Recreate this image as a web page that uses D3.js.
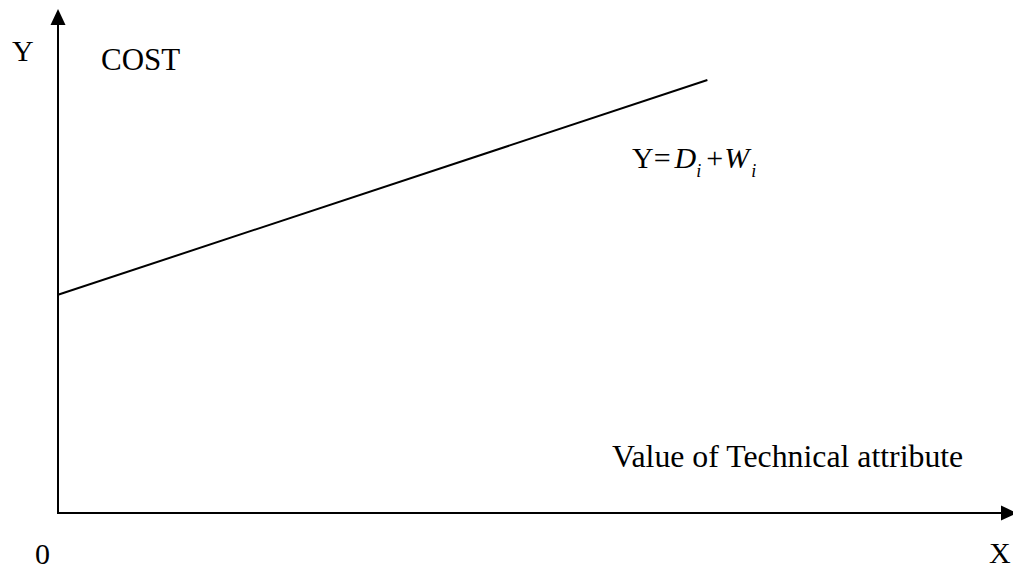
<!DOCTYPE html>
<html>
<head>
<meta charset="utf-8">
<script src="https://cdn.jsdelivr.net/npm/d3@7"></script>
<style>
  body { margin: 0; background: #fff; }
  text { font-family: "Liberation Serif", "Times New Roman", serif; fill: #000; }
</style>
</head>
<body>
<div id="chart"></div>
<script>
// cost line: value of technical attribute -> cost
const lineX = [0, 68];
const lineY = [43.3, 85.9];
const xDomain = [0, 100];
const yDomain = [0, 100];
const axisLabels = { y: "Y", x: "X", origin: "0", cost: "COST", attr: "Value of Technical attribute" };

const width = 1013, height = 570;
const svg = d3.select("#chart").append("svg")
    .attr("width", width)
    .attr("height", height);

const xScale = d3.scaleLinear().domain(xDomain).range([58, 1013]);
const yScale = d3.scaleLinear().domain(yDomain).range([513, 9]);

const x0 = xScale(0), y0 = yScale(0);
const xEnd = xScale(xDomain[1]), yEnd = yScale(yDomain[1]);

// axes
svg.append("line")
    .attr("x1", x0).attr("y1", y0)
    .attr("x2", x0).attr("y2", yEnd + 14)
    .attr("stroke", "#000").attr("stroke-width", 2);
svg.append("line")
    .attr("x1", x0 - 1).attr("y1", y0)
    .attr("x2", xEnd - 12).attr("y2", y0)
    .attr("stroke", "#000").attr("stroke-width", 2);

// arrow heads
svg.append("path")
    .attr("d", `M${x0},${yEnd} L${x0 - 7.5},${yEnd + 16} L${x0 + 7.5},${yEnd + 16} Z`)
    .attr("fill", "#000");
svg.append("path")
    .attr("d", `M${xEnd + 4},${y0} L${xEnd - 12},${y0 - 7.5} L${xEnd - 12},${y0 + 7.5} Z`)
    .attr("fill", "#000");

// the cost line
const data = lineX.map((d, i) => ({ x: d, y: lineY[i] }));
const line = d3.line()
    .x(d => xScale(d.x))
    .y(d => yScale(d.y));

svg.append("path")
    .datum(data)
    .attr("d", line)
    .attr("fill", "none")
    .attr("stroke", "#000")
    .attr("stroke-width", 2);

// labels
svg.append("text").attr("x", 12).attr("y", 61)
    .style("font-size", "30px").text(axisLabels.y);
svg.append("text").attr("x", 101).attr("y", 70)
    .style("font-size", "31px").text(axisLabels.cost);
svg.append("text").attr("x", 612).attr("y", 467)
    .style("font-size", "31.8px").text(axisLabels.attr);
svg.append("text").attr("x", 35).attr("y", 564)
    .style("font-size", "30px").text(axisLabels.origin);
svg.append("text").attr("x", 989).attr("y", 563)
    .style("font-size", "30px").text(axisLabels.x);

// equation Y = D_i + W_i
const eq = svg.append("text").attr("x", 632).attr("y", 168).style("font-size", "30px");
eq.append("tspan").text("Y=");
eq.append("tspan").attr("dx", 4).style("font-style", "italic").text("D");
eq.append("tspan").attr("dy", 9).style("font-size", "18px").style("font-style", "italic").text("i");
eq.append("tspan").attr("dy", -9).attr("dx", 5).text("+");
eq.append("tspan").attr("dx", 1).style("font-style", "italic").text("W");
eq.append("tspan").attr("dy", 9).attr("dx", 2).style("font-size", "18px").style("font-style", "italic").text("i");
</script>
</body>
</html>
